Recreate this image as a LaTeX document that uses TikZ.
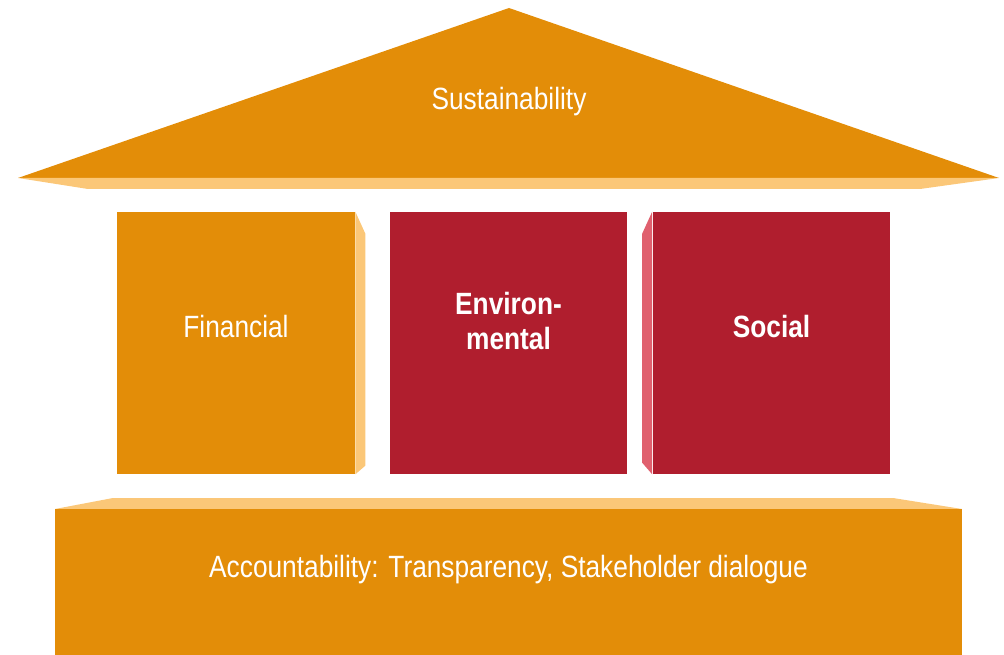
\documentclass[tikz,border=0pt]{standalone}
\usepackage{fontspec}
\setmainfont{Liberation Sans}[FakeStretch=0.855]
\definecolor{houseorange}{HTML}{E38D08}
\definecolor{houselight}{HTML}{FBC778}
\definecolor{housered}{HTML}{B01E2E}
\definecolor{housepink}{HTML}{E0606E}

\tikzset{
  pillar/.style={rectangle, inner sep=0pt, minimum width=4.76cm, minimum height=5.24cm},
  caption/.style={text=white, align=center, inner sep=0pt,
    font=\fontsize{17.5}{19.5}\selectfont},
  bold caption/.style={caption, font=\fontsize{17.5}{19.5}\selectfont\bfseries},
}

\begin{document}
\begin{tikzpicture}[x=0.02cm, y=-0.02cm]
  \useasboundingbox (0,0) rectangle (1004,655);

  % roof
  \fill[houseorange] (18,178) -- (509,8) -- (999,178) -- cycle;
  \fill[houselight] (18,178) -- (999,178) -- (920,189) -- (88,189) -- cycle;
  \node[caption] (roof) at (509,102) {Sustainability};

  % pillars
  \node[pillar, fill=houseorange] (fin) at (236,343) {};
  \node[pillar, fill=housered] (env) at (508.5,343) {};
  \node[pillar, fill=housered] (soc) at (771.5,343) {};
  \fill[houselight] (fin.north east) -- ++(10,22) -- ++(0,232) -- (fin.south east) -- cycle;
  \fill[housepink] (soc.north west) -- ++(-10,22) -- ++(0,229) -- (soc.south west) -- cycle;
  \node[caption] (finlbl) at ([yshift=0.33cm]fin.center) {Financial};
  \node[bold caption] (envlbl) at ([yshift=0.44cm]env.center) {Environ-\\mental};
  \node[bold caption] (soclbl) at ([yshift=0.33cm]soc.center) {Social};

  % foundation
  \fill[houselight] (55,509) -- (113,498) -- (893,498) -- (962,509) -- cycle;
  \node[rectangle, inner sep=0pt, fill=houseorange, minimum width=18.14cm,
    minimum height=2.92cm] (base) at (508.5,582) {};
  \node[caption] (baselbl) at ([yshift=0.25cm]base.center)
    {Accountability: Transparency, Stakeholder dialogue};
\end{tikzpicture}
\end{document}
